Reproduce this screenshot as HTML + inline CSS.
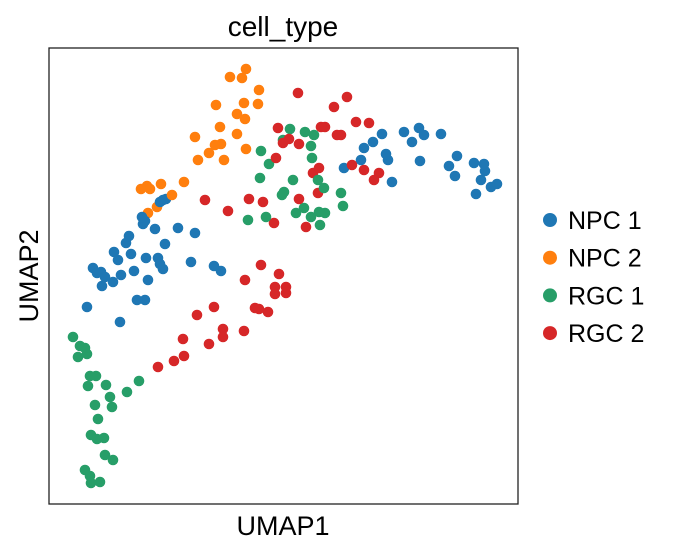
<!DOCTYPE html>
<html><head><meta charset="utf-8">
<style>
html,body{margin:0;padding:0;background:#fff;}
svg{display:block;font-family:"Liberation Sans",Arial,sans-serif;}
</style></head>
<body>
<svg id="chart" width="675" height="556" viewBox="0 0 675 556" xmlns="http://www.w3.org/2000/svg">
<text x="283" y="36" text-anchor="middle" font-size="28" fill="#000">cell_type</text>
<g id="points"></g>
<rect x="49" y="48" width="469" height="456" fill="none" stroke="#222" stroke-width="1.3"/>
<text x="283" y="535" text-anchor="middle" font-size="27" fill="#000">UMAP1</text>
<text transform="translate(38,276) rotate(-90)" text-anchor="middle" font-size="27" fill="#000">UMAP2</text>
<g id="legend"></g>
</svg>
<script>
const categories = ["NPC 1","NPC 2","RGC 1","RGC 2"];
const colors = ["#1f77b4","#ff7f0e","#279e68","#d62728"];
const npc1X = [11.4,11.1,11.7,9.3,9.6,9.4,10.6,12.9,14.6,8.0,7.7,11.6,6.5,6.9,8.2,9.7,10.9,11.1,11.4,14.2,16.5,17.2,4.4,4.8,5.2,5.6,5.3,6.4,7.2,8.5,9.9,8.8,9.6,3.8,7.1,33.3,35.5,37.0,37.5,36.3,39.2,32.4,31.5,33.7,33.9,31.2,29.5,34.3,37.1,40.8,40.0,40.6,42.5,43.5,43.6,43.2,42.7,44.2,44.8];
const npc1Y = [30.4,30.2,30.5,28.7,28.3,28.0,27.5,27.6,27.1,26.8,26.1,26.0,25.2,24.4,25.0,24.6,24.6,24.0,23.5,24.2,23.8,23.3,23.6,23.1,23.2,22.7,21.8,22.2,22.9,23.3,22.4,20.4,20.4,19.7,18.2,37.0,37.2,37.6,36.9,36.2,37.0,36.2,35.6,35.0,34.4,34.4,33.6,32.2,34.3,34.8,33.8,32.8,34.1,34.0,33.3,32.4,31.0,31.7,32.0];
const npc2X = [18.1,19.7,19.3,21.0,16.7,19.5,20.9,18.8,19.6,17.1,18.8,14.6,16.6,17.2,16.0,14.9,17.5,19.7,9.2,9.8,10.1,11.2,13.5,12.3,10.8,9.9];
const npc2Y = [42.7,43.5,42.6,41.4,39.9,40.1,40.0,39.0,38.5,37.7,37.0,36.7,35.9,36.0,35.1,34.4,34.4,35.5,31.5,31.8,31.5,32.0,32.2,30.9,29.7,29.1];
const rgc1X = [24.1,25.6,26.5,23.4,26.2,26.3,21.2,22.0,21.1,24.4,26.9,27.5,23.5,23.3,29.2,29.4,25.5,24.7,26.2,27.0,27.6,27.1,21.7,19.9,2.4,3.1,3.6,3.8,2.9,4.1,4.7,3.9,5.7,6.1,7.8,9.0,4.6,6.3,4.9,4.2,4.8,5.5,5.6,6.4,3.6,4.1,4.2,5.1];
const rgc1Y = [37.5,37.2,36.9,36.4,35.8,34.6,35.3,34.0,32.6,32.4,32.4,31.6,31.2,30.9,31.1,29.8,29.6,29.1,28.7,29.2,29.1,27.9,28.7,28.4,16.7,15.8,15.6,15.0,14.7,12.8,12.8,11.8,11.9,10.7,11.2,12.3,9.9,9.7,8.5,6.9,6.5,6.6,4.9,4.4,3.4,2.8,2.1,2.2];
const rgc2X = [24.9,29.8,28.5,30.7,32.0,22.9,27.2,27.6,24.0,23.4,25.0,28.8,29.2,22.7,27.0,26.4,30.3,31.5,33.0,32.5,26.9,25.0,21.4,22.5,25.7,15.6,20.0,17.9,21.2,23.0,19.6,22.6,23.7,22.6,23.7,16.5,14.8,20.6,21.0,21.9,17.4,17.4,19.5,13.4,16.0,13.5,12.5,10.9];
const rgc2Y = [41.1,40.7,39.7,38.2,38.1,37.6,37.7,37.7,36.5,36.1,36.0,36.9,36.9,34.6,33.6,33.1,33.9,33.4,33.1,32.4,31.1,30.5,30.2,28.1,27.7,30.4,30.5,29.3,23.9,23.0,22.4,21.7,21.7,21.0,21.1,19.7,18.9,19.6,19.5,19.2,17.5,16.7,17.3,16.5,16.0,14.8,14.3,13.7];

const NS = "http://www.w3.org/2000/svg";
const xScale = v => 49 + v * 10;
const yScale = v => 504 - v * 10;
const series = [[npc1X,npc1Y],[npc2X,npc2Y],[rgc1X,rgc1Y],[rgc2X,rgc2Y]];
const layer = document.getElementById("points");
const all = [];
series.forEach((s,k)=>s[0].forEach((x,i)=>all.push([k,x,s[1][i],i])));
all.sort((a,b)=>((a[3]*7+a[0]*13)%11)-((b[3]*7+b[0]*13)%11));
all.forEach(p=>{
  const c = document.createElementNS(NS,"circle");
  c.setAttribute("cx", xScale(p[1]));
  c.setAttribute("cy", yScale(p[2]));
  c.setAttribute("r", 5.3);
  c.setAttribute("fill", colors[p[0]]);
  
  
  layer.appendChild(c);
});
const legend = document.getElementById("legend");
categories.forEach((cat,i)=>{
  const y = 220 + i * 37.7;
  const g = document.createElementNS(NS,"g");
  
  
  const c = document.createElementNS(NS,"circle");
  c.setAttribute("cx",550); c.setAttribute("cy",y); c.setAttribute("r",7);
  c.setAttribute("fill",colors[i]);
  
  
  const t = document.createElementNS(NS,"text");
  t.setAttribute("x",568); t.setAttribute("y",y+9);
  t.setAttribute("font-size","25");
  t.textContent = cat;
  
  
  g.appendChild(c); g.appendChild(t); legend.appendChild(g);
});
</script>
</body></html>
